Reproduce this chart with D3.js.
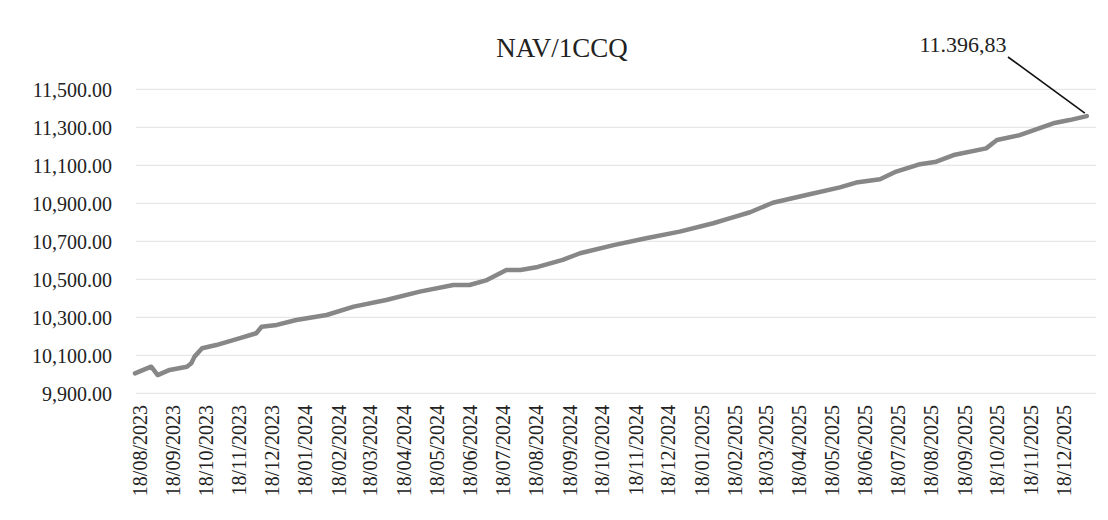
<!DOCTYPE html>
<html><head><meta charset="utf-8">
<script src="https://cdn.jsdelivr.net/npm/d3@7"></script>
<style>
html,body{margin:0;padding:0;background:#fff;}
svg text{font-family:"Liberation Serif","Times New Roman",serif;fill:#222;}
</style></head>
<body><svg id="c" width="1108" height="520"></svg>
<script>
const title = "NAV/1CCQ";
const lastLabel = "11.396,83";
const yTicks = [9900, 10100, 10300, 10500, 10700, 10900, 11100, 11300, 11500];
const xTickLabels = ["18/08/2023","18/09/2023","18/10/2023","18/11/2023","18/12/2023",
 "18/01/2024","18/02/2024","18/03/2024","18/04/2024","18/05/2024","18/06/2024","18/07/2024",
 "18/08/2024","18/09/2024","18/10/2024","18/11/2024","18/12/2024","18/01/2025","18/02/2025",
 "18/03/2025","18/04/2025","18/05/2025","18/06/2025","18/07/2025","18/08/2025","18/09/2025",
 "18/10/2025","18/11/2025","18/12/2025"];
const dates = ["2023-08-14","2023-08-29","2023-09-04","2023-09-15","2023-10-01","2023-10-05",
 "2023-10-08","2023-10-15","2023-10-28","2023-11-19","2023-12-04","2023-12-09","2023-12-23",
 "2024-01-10","2024-02-07","2024-03-03","2024-04-02","2024-05-03","2024-06-03","2024-06-18",
 "2024-07-04","2024-07-22","2024-08-04","2024-08-20","2024-09-12","2024-09-28","2024-10-29",
 "2024-11-28","2024-12-29","2025-01-29","2025-02-13","2025-03-04","2025-03-25","2025-04-25",
 "2025-05-26","2025-06-10","2025-07-02","2025-07-17","2025-08-08","2025-08-23","2025-09-08",
 "2025-10-08","2025-10-18","2025-11-08","2025-12-09","2025-12-24","2026-01-09"];
const navValues = [10005,10040,9996,10023,10040,10058,10093,10137,10154,10190,10216,10250,10260,
 10286,10312,10356,10391,10435,10470,10470,10496,10549,10549,10565,10602,10637,10680,
 10716,10751,10795,10821,10853,10903,10944,10984,11009,11027,11067,11106,11119,11154,
 11189,11233,11259,11321,11338,11359];

const svg = d3.select("#c");
const parseIso = d3.utcParse("%Y-%m-%d");
const parseLbl = d3.utcParse("%d/%m/%Y");
const data = dates.map((d,i)=>({date:parseIso(d), v:navValues[i]}));

const x = d3.scaleUtc()
  .domain([parseLbl(xTickLabels[0]), parseLbl(xTickLabels[xTickLabels.length-1])])
  .range([139.3, 1063]);
const y = d3.scaleLinear().domain([9900, 11500]).range([393.3, 89.3]);

// gridlines
svg.append("g").selectAll("line").data(yTicks).join("line")
  .attr("x1", 136).attr("x2", 1096)
  .attr("y1", d=>y(d)).attr("y2", d=>y(d))
  .attr("stroke", "#e2e2e2").attr("stroke-width", 1);

// y axis
const yAxis = svg.append("g").attr("transform","translate(112,0)")
  .call(d3.axisLeft(y).tickValues(yTicks).tickSize(0).tickPadding(0)
    .tickFormat(d3.format(",.2f")));
yAxis.select(".domain").remove();
yAxis.selectAll("text").style("font-size","20px").attr("dy","0.35em");

// x axis
const xAxis = svg.append("g").attr("transform","translate(0,405)")
  .call(d3.axisBottom(x).tickValues(xTickLabels.map(parseLbl)).tickSize(0).tickPadding(0)
    .tickFormat(d3.utcFormat("%d/%m/%Y")));
xAxis.select(".domain").remove();
xAxis.selectAll("text").style("font-size","20px")
  .attr("text-anchor","end").attr("transform","rotate(-90)")
  .attr("x",0).attr("y",0).attr("dy","0.35em");

// line
const line = d3.line().x(d=>x(d.date)).y(d=>y(d.v));
svg.append("path").datum(data).attr("d", line)
  .attr("fill","none").attr("stroke","#878787").attr("stroke-width",4.5)
  .attr("stroke-linejoin","round").attr("stroke-linecap","round");

// title
svg.append("text").attr("x",562).attr("y",57).attr("text-anchor","middle")
  .style("font-size","27px").text(title);

// annotation
const last = data[data.length-1];
svg.append("line").attr("x1",1008).attr("y1",57)
  .attr("x2",x(last.date)-2).attr("y2",y(last.v)-3)
  .attr("stroke","#111").attr("stroke-width",1.6);
svg.append("text").attr("x",963).attr("y",52).attr("text-anchor","middle")
  .style("font-size","22px").text(lastLabel);
</script></body></html>
